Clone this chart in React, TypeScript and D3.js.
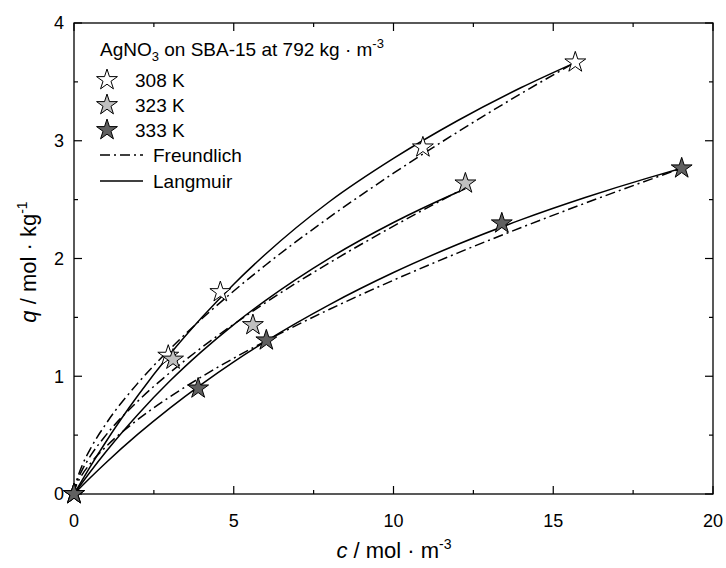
import React from "react";
import * as d3 from "d3";

// ---- measured data (c in mol/m3, q in mol/kg) ----
const c308 = [0, 2.95, 4.58, 10.92, 15.69];
const q308 = [0, 1.175, 1.715, 2.944, 3.666];
const c323 = [0, 3.1, 5.6, 12.25];
const q323 = [0, 1.142, 1.435, 2.638];
const c333 = [0, 3.885, 6.02, 13.39, 19.02];
const q333 = [0, 0.897, 1.305, 2.299, 2.766];

// ---- fitted curves ----
const cL308 = [0, 0.5, 1, 2, 3, 4, 5, 6, 8, 10, 12, 14, 15.69];
const qL308 = [0, 0.229, 0.444, 0.836, 1.186, 1.499, 1.782, 2.038, 2.484, 2.85, 3.17, 3.452, 3.664];
const cF308 = [0, 0.05, 0.1, 0.25, 0.5, 1, 2, 3, 4, 5, 6, 8, 10, 12, 14, 15.69];
const qF308 = [0, 0.083, 0.13, 0.239, 0.377, 0.596, 0.942, 1.23, 1.488, 1.724, 1.945, 2.351, 2.724, 3.073, 3.402, 3.666];

const cL323 = [0, 0.5, 1, 2, 3, 4, 5, 6, 8, 10, 12, 12.25];
const qL323 = [0, 0.185, 0.359, 0.676, 0.959, 1.211, 1.439, 1.645, 2.004, 2.306, 2.563, 2.593];
const cF323 = [0, 0.05, 0.1, 0.25, 0.5, 1, 2, 3, 4, 5, 6, 8, 10, 12, 12.25];
const qF323 = [0, 0.07, 0.11, 0.201, 0.317, 0.5, 0.789, 1.03, 1.245, 1.442, 1.626, 1.964, 2.275, 2.565, 2.6];

const cL333 = [0, 0.5, 1, 2, 3, 4, 5, 6, 8, 10, 12, 14, 16, 18, 19.02];
const qL333 = [0, 0.136, 0.266, 0.508, 0.73, 0.934, 1.123, 1.297, 1.609, 1.881, 2.119, 2.33, 2.518, 2.687, 2.766];
const cF333 = [0, 0.05, 0.1, 0.25, 0.5, 1, 2, 3, 4, 5, 6, 8, 10, 12, 14, 16, 18, 19.02];
const qF333 = [0, 0.057, 0.089, 0.162, 0.255, 0.402, 0.633, 0.825, 0.996, 1.153, 1.299, 1.569, 1.816, 2.046, 2.263, 2.47, 2.668, 2.766];

const seriesLabels = ["308 K", "323 K", "333 K"];
const seriesFills = ["#ffffff", "#c0c0c0", "#606060"];
const xTicks = [0, 5, 10, 15, 20];
const xMinor = [2.5, 7.5, 12.5, 17.5];
const yTicks = [0, 1, 2, 3, 4];
const yMinor = [0.5, 1.5, 2.5, 3.5];

const W = 726, H = 568;
const L = 74, R = 713, T = 23, B = 494;
const FONT = "'Liberation Sans', Arial, sans-serif";
const DASH = "10,4,2,4";

export default function App() {
  const x = d3.scaleLinear().domain([0, 20]).range([L, R]);
  const y = d3.scaleLinear().domain([0, 4]).range([B, T]);
  const line = d3.line<[number, number]>()
    .x(d => x(d[0])).y(d => y(d[1])).curve(d3.curveMonotoneX);
  const zip = (a: number[], b: number[]) => a.map((v, i) => [v, b[i]] as [number, number]);
  const star = d3.symbol().type(d3.symbolStar).size(135)() as string;

  const fits = [
    { c: cL308, q: qL308, dash: null },
    { c: cF308, q: qF308, dash: DASH },
    { c: cL323, q: qL323, dash: null },
    { c: cF323, q: qF323, dash: DASH },
    { c: cL333, q: qL333, dash: null },
    { c: cF333, q: qF333, dash: DASH },
  ];
  const pts = [
    { c: c308, q: q308, fill: seriesFills[0] },
    { c: c323, q: q323, fill: seriesFills[1] },
    { c: c333, q: q333, fill: seriesFills[2] },
  ];

  return (
    <svg width={W} height={H} style={{ position: "absolute", left: 0, top: 0 }} fontFamily={FONT}>
      <rect x={0} y={0} width={W} height={H} fill="#fff" />
      {/* fit curves */}
      {fits.map((f, i) => (
        <path key={"f" + i} d={line(zip(f.c, f.q)) as string} fill="none" stroke="#000"
          strokeWidth={1.5} strokeDasharray={f.dash || undefined} />
      ))}
      {/* frame */}
      <rect x={L} y={T} width={R - L} height={B - T} fill="none" stroke="#000" strokeWidth={1.3} />
      {/* ticks */}
      {xTicks.map(t => (
        <g key={"xt" + t}>
          <line x1={x(t)} x2={x(t)} y1={B} y2={B - 8} stroke="#000" strokeWidth={1.2} />
          <line x1={x(t)} x2={x(t)} y1={T} y2={T + 8} stroke="#000" strokeWidth={1.2} />
          <text x={x(t)} y={527} textAnchor="middle" fontSize={18}>{t}</text>
        </g>
      ))}
      {xMinor.map(t => (
        <g key={"xm" + t}>
          <line x1={x(t)} x2={x(t)} y1={B} y2={B - 4} stroke="#000" strokeWidth={1.2} />
          <line x1={x(t)} x2={x(t)} y1={T} y2={T + 4} stroke="#000" strokeWidth={1.2} />
        </g>
      ))}
      {yTicks.map(t => (
        <g key={"yt" + t}>
          <line x1={L} x2={L + 8} y1={y(t)} y2={y(t)} stroke="#000" strokeWidth={1.2} />
          <line x1={R} x2={R - 8} y1={y(t)} y2={y(t)} stroke="#000" strokeWidth={1.2} />
          <text x={64} y={y(t)} dy="0.36em" textAnchor="end" fontSize={18}>{t}</text>
        </g>
      ))}
      {yMinor.map(t => (
        <g key={"ym" + t}>
          <line x1={L} x2={L + 4} y1={y(t)} y2={y(t)} stroke="#000" strokeWidth={1.2} />
          <line x1={R} x2={R - 4} y1={y(t)} y2={y(t)} stroke="#000" strokeWidth={1.2} />
        </g>
      ))}
      {/* data stars */}
      {pts.map((s, i) => (
        <g key={"p" + i}>
          {s.c.map((cv, j) => (
            <path key={j} d={star} transform={`translate(${x(cv)},${y(s.q[j])})`}
              fill={s.fill} stroke="#000" strokeWidth={1} />
          ))}
        </g>
      ))}
      {/* axis titles */}
      <text x={394} y={558} textAnchor="middle" fontSize={22}>
        <tspan fontStyle="italic">c</tspan> / mol · m<tspan dy={-9} fontSize={14}>-3</tspan>
      </text>
      <text transform="translate(36,262) rotate(-90)" textAnchor="middle" fontSize={22}>
        <tspan fontStyle="italic">q</tspan> / mol · kg<tspan dy={-9} fontSize={14}>-1</tspan>
      </text>
      {/* legend */}
      <text x={100} y={56} fontSize={19}>
        AgNO<tspan dy={5} fontSize={13}>3</tspan><tspan dy={-5}> on SBA-15 at 792 kg · m</tspan><tspan dy={-8} fontSize={13}>-3</tspan>
      </text>
      {seriesLabels.map((lab, i) => (
        <g key={"lg" + i}>
          <path d={star} transform={`translate(107,${80 + i * 25})`} fill={seriesFills[i]} stroke="#000" strokeWidth={1} />
          <text x={135} y={80 + i * 25} dy="0.36em" fontSize={19}>{lab}</text>
        </g>
      ))}
      <line x1={100} x2={143} y1={155} y2={155} stroke="#000" strokeWidth={1.5} strokeDasharray={DASH} />
      <text x={153} y={155} dy="0.36em" fontSize={19}>Freundlich</text>
      <line x1={100} x2={143} y1={181} y2={181} stroke="#000" strokeWidth={1.5} />
      <text x={153} y={181} dy="0.36em" fontSize={19}>Langmuir</text>
    </svg>
  );
}
